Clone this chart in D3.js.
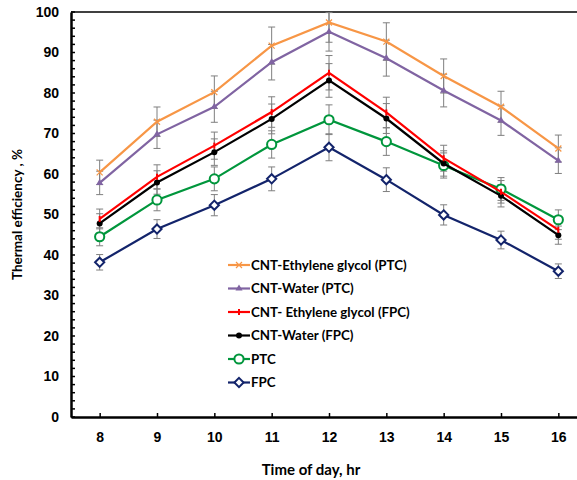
<!DOCTYPE html>
<html>
<head>
<meta charset="utf-8">
<script src="https://cdn.jsdelivr.net/npm/d3@7"></script>
<style>
  body { margin: 0; background: #fff; }
  svg { display: block; font-family: Lato, "Open Sans", sans-serif; }
</style>
</head>
<body>
<div id="chart"></div>
<script>
const hours = [8, 9, 10, 11, 12, 13, 14, 15, 16];

const cntEgPtc   = [60.4, 72.9, 80.2, 91.7, 97.4, 92.7, 84.2, 76.6, 66.3];
const cntWaterPtc = [57.8, 69.8, 76.6, 87.6, 95.1, 88.6, 80.6, 73.2, 63.3];
const cntEgFpc   = [48.9, 59.3, 67.0, 75.3, 85.0, 75.2, 63.9, 55.6, 46.2];
const cntWaterFpc = [47.8, 57.9, 65.4, 73.6, 83.1, 73.7, 62.6, 54.6, 44.9];
const ptc        = [44.5, 53.6, 58.8, 67.3, 73.4, 68.0, 62.1, 56.3, 48.7];
const fpc        = [38.2, 46.4, 52.3, 58.8, 66.6, 58.6, 49.9, 43.7, 36.0];

const seriesNames = ['CNT-Ethylene glycol (PTC)', 'CNT-Water (PTC)', 'CNT- Ethylene glycol (FPC)',
  'CNT-Water (FPC)', 'PTC', 'FPC'];
const errorPercent = 5; // Excel style percentage error bars
const yTicks = [0, 10, 20, 30, 40, 50, 60, 70, 80, 90, 100];

const width = 577, height = 480;
const margin = { top: 12, left: 71, bottom: 63 };
const plotRight = 587; // frame runs past the cropped edge

const series = [
  { name: seriesNames[0], values: cntEgPtc, color: '#f79646', marker: 'x' },
  { name: seriesNames[1], values: cntWaterPtc, color: '#8064a2', marker: 'tri' },
  { name: seriesNames[2], values: cntEgFpc, color: '#ff0000', marker: 'dash' },
  { name: seriesNames[3], values: cntWaterFpc, color: '#000000', marker: 'dot' },
  { name: seriesNames[4], values: ptc, color: '#00963c', marker: 'circle' },
  { name: seriesNames[5], values: fpc, color: '#13246b', marker: 'diamond' }
];

const svg = d3.select('#chart').append('svg')
  .attr('width', width)
  .attr('height', height);

const x = d3.scalePoint()
  .domain(hours)
  .range([margin.left, plotRight])
  .padding(0.5);

const y = d3.scaleLinear()
  .domain([0, 100])
  .range([height - margin.bottom, margin.top]);

svg.append('clipPath').attr('id', 'plot-clip')
  .append('rect')
  .attr('x', margin.left).attr('y', margin.top)
  .attr('width', plotRight - margin.left)
  .attr('height', y(0) - margin.top);

// frame top
svg.append('line')
  .attr('x1', margin.left).attr('x2', plotRight)
  .attr('y1', y(100)).attr('y2', y(100))
  .attr('stroke', '#000').attr('stroke-width', 1.5);

// y axis with minor ticks inside
const yAxis = svg.append('g')
  .attr('transform', `translate(${margin.left},0)`)
  .call(d3.axisLeft(y).tickValues(yTicks).tickSize(0).tickPadding(12));
yAxis.select('.domain').attr('stroke', '#000').attr('stroke-width', 2.5);
yAxis.selectAll('text')
  .attr('font-size', 14).attr('font-weight', 'bold').attr('fill', '#000');

svg.append('g')
  .selectAll('line')
  .data(d3.range(0, 101, 2))
  .join('line')
    .attr('x1', margin.left).attr('x2', margin.left + 4)
    .attr('y1', d => y(d)).attr('y2', d => y(d))
    .attr('stroke', '#000').attr('stroke-width', 1.5);

// x axis
const xAxis = svg.append('g')
  .attr('transform', `translate(0,${y(0)})`)
  .call(d3.axisBottom(x).tickSize(0).tickPadding(15));
xAxis.select('.domain').attr('stroke', '#000').attr('stroke-width', 2.5);
xAxis.selectAll('text')
  .attr('font-size', 14).attr('font-weight', 'bold').attr('fill', '#000');
xAxis.selectAll('.tick').append('line')
  .attr('y1', 0).attr('y2', -4)
  .attr('stroke', '#000').attr('stroke-width', 1.5);

// titles
svg.append('text')
  .attr('transform', `translate(22,${(y(0) + y(100)) / 2}) rotate(-90)`)
  .attr('text-anchor', 'middle')
  .attr('font-size', 13.5).attr('font-weight', 'bold')
  .text('Thermal efficiency , %');

svg.append('text')
  .attr('x', 311).attr('y', 475)
  .attr('text-anchor', 'middle')
  .attr('font-size', 15).attr('font-weight', 'bold')
  .text('Time of day, hr');

const plot = svg.append('g').attr('clip-path', 'url(#plot-clip)');

// error bars
series.forEach(s => {
  const g = plot.append('g');
  s.values.forEach((v, i) => {
    const e = v * errorPercent / 100;
    const cx = x(hours[i]);
    g.append('line')
      .attr('x1', cx).attr('x2', cx)
      .attr('y1', y(v - e)).attr('y2', y(v + e))
      .attr('stroke', '#7f7f7f').attr('stroke-width', 1);
    [v - e, v + e].forEach(t => {
      g.append('line')
        .attr('x1', cx - 3.5).attr('x2', cx + 3.5)
        .attr('y1', y(t)).attr('y2', y(t))
        .attr('stroke', '#7f7f7f').attr('stroke-width', 1);
    });
  });
});

const line = d3.line()
  .x((d, i) => x(hours[i]))
  .y(d => y(d));

function drawMarker(g, type, cx, cy, color) {
  if (type === 'x') {
    g.append('path')
      .attr('d', `M${cx - 3},${cy - 3}L${cx + 3},${cy + 3}M${cx - 3},${cy + 3}L${cx + 3},${cy - 3}`)
      .attr('stroke', color).attr('stroke-width', 1.2);
  } else if (type === 'tri') {
    g.append('path')
      .attr('d', d3.symbol(d3.symbolTriangle, 22)())
      .attr('transform', `translate(${cx},${cy})`)
      .attr('fill', color);
  } else if (type === 'dash') {
    g.append('line')
      .attr('x1', cx).attr('x2', cx)
      .attr('y1', cy - 3).attr('y2', cy + 3)
      .attr('stroke', color).attr('stroke-width', 2);
  } else if (type === 'dot') {
    g.append('circle')
      .attr('cx', cx).attr('cy', cy).attr('r', 3)
      .attr('fill', color);
  } else if (type === 'circle') {
    g.append('circle')
      .attr('cx', cx).attr('cy', cy).attr('r', 4.6)
      .attr('fill', '#fff').attr('stroke', color).attr('stroke-width', 2);
  } else if (type === 'diamond') {
    g.append('path')
      .attr('d', `M${cx},${cy - 4.6}L${cx + 4.6},${cy}L${cx},${cy + 4.6}L${cx - 4.6},${cy}Z`)
      .attr('fill', '#fff').attr('stroke', color).attr('stroke-width', 2);
  }
}

// lines and markers, drawn bottom series first so orange sits on top
series.slice().reverse().forEach(s => {
  const g = plot.append('g');
  g.append('path')
    .datum(s.values)
    .attr('d', line)
    .attr('fill', 'none')
    .attr('stroke', s.color)
    .attr('stroke-width', 2.2);
  s.values.forEach((v, i) => drawMarker(g, s.marker, x(hours[i]), y(v), s.color));
});

// legend
const legend = svg.append('g').attr('transform', 'translate(228,265)');
series.forEach((s, i) => {
  const row = legend.append('g').attr('transform', `translate(0,${i * 23.5})`);
  row.append('line')
    .attr('x1', 0).attr('x2', 22)
    .attr('stroke', s.color).attr('stroke-width', 2.2);
  drawMarker(row, s.marker, 11, 0, s.color);
  row.append('text')
    .attr('x', 23).attr('y', 0).attr('dy', '0.35em')
    .attr('font-size', 13.3).attr('font-weight', 'bold')
    .text(s.name);
});
</script>
</body>
</html>
